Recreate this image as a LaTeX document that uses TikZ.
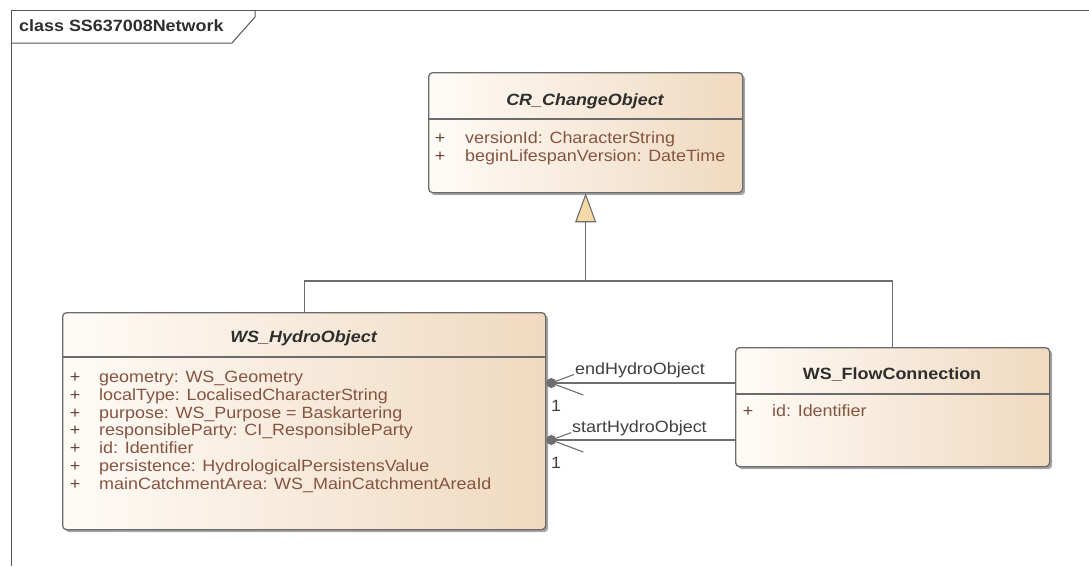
\documentclass[tikz,border=0pt]{standalone}
\usepackage{fontspec}
\setmainfont{Liberation Sans}[FakeStretch=1.1]
\usetikzlibrary{arrows.meta,shadows,calc}

\definecolor{boxline}{HTML}{6B6B6B}
\definecolor{boxlight}{HTML}{FEFBF7}
\definecolor{boxdark}{HTML}{F0D9BF}
\definecolor{attrtext}{HTML}{855441}
\definecolor{titletext}{HTML}{2E2E2E}
\definecolor{labeltext}{HTML}{404040}
\definecolor{connline}{HTML}{6E6E6E}
\definecolor{tipfill}{HTML}{F8D9A8}
\definecolor{frameline}{HTML}{555555}

\newcommand\umlfont{\fontsize{16.3pt}{19pt}\selectfont}

\begin{document}
\begin{tikzpicture}[x=1pt,y=-1pt,
  classbox/.style={draw=boxline, line width=1.3pt, rounded corners=4pt,
    left color=boxlight, right color=boxdark, anchor=north west, inner sep=0pt,
    drop shadow={shadow xshift=2.5pt, shadow yshift=-2.5pt, opacity=0.35, fill=black}},
  sepline/.style={draw=boxline, line width=1.1pt},
  classtitle/.style={font=\umlfont\bfseries, text=titletext, anchor=base, inner sep=0pt},
  abstracttitle/.style={font=\umlfont\bfseries\itshape, text=titletext, anchor=base, inner sep=0pt},
  attr/.style={font=\umlfont, text=attrtext, anchor=base west, inner sep=0pt},
  vis/.style={font=\umlfont, text=attrtext!80!black, anchor=base, inner sep=0pt},
  conn/.style={draw=connline, line width=1.1pt},
  rolelabel/.style={font=\umlfont, text=labeltext, anchor=base west, fill=white, inner sep=1pt},
  multlabel/.style={font=\umlfont, text=labeltext, anchor=base west, inner sep=0pt},
  frame/.style={draw=frameline, line width=1pt}]

\useasboundingbox (0,0) rectangle (1089,566);

% diagram frame with its name tab
\draw[frame] (11,566) -- (11,10) -- (1089,10);
\draw[frame] (11,43) -- (232,43) -- (255,17) -- (255,10);
\node[font=\umlfont\bfseries, text=titletext, anchor=base west, inner sep=0pt]
  (frameTitle) at (19,31) {class SS637008Network};

% CR_ChangeObject
\node[classbox, minimum width=314pt, minimum height=120pt] (cr) at (428,72) {};
\draw[sepline] (cr.west |- 0,119) -- (cr.east |- 0,119);
\node[abstracttitle] (crTitle) at (585,105) {CR\_ChangeObject};
\node[vis] (crV1) at (440,143) {+};
\node[attr] (crA1) at (465,143) {versionId: CharacterString};
\node[vis] (crV2) at (440,161) {+};
\node[attr] (crA2) at (465,161) {beginLifespanVersion: DateTime};

% WS_HydroObject
\node[classbox, minimum width=483pt, minimum height=217pt] (hydro) at (62,312) {};
\draw[sepline] (hydro.west |- 0,357) -- (hydro.east |- 0,357);
\node[abstracttitle] (hydroTitle) at (303.5,342) {WS\_HydroObject};
\foreach \txt [count=\i from 0] in {
    {geometry: WS\_Geometry},
    {localType: LocalisedCharacterString},
    {purpose: WS\_Purpose = Baskartering},
    {responsibleParty: CI\_ResponsibleParty},
    {id: Identifier},
    {persistence: HydrologicalPersistensValue},
    {mainCatchmentArea: WS\_MainCatchmentAreaId}} {
  \node[vis] (hydroV\i) at (75,382.5+17.8*\i) {+};
  \node[attr] (hydroA\i) at (99,382.5+17.8*\i) {\txt};
}

% WS_FlowConnection
\node[classbox, minimum width=314pt, minimum height=119pt] (flow) at (735,347) {};
\draw[sepline] (flow.west |- 0,394) -- (flow.east |- 0,394);
\node[classtitle] (flowTitle) at (892,379) {WS\_FlowConnection};
\node[vis] (flowV1) at (748,416) {+};
\node[attr] (flowA1) at (772,416) {id: Identifier};

% generalisation tree
\coordinate (joint) at (cr.south |- 0,281);
\draw[conn] (hydro.north) |- (joint) -| (flow.north);
\draw[conn, -{Triangle[length=29pt, width=21pt, fill=tipfill]}] (joint) -- (cr.south);

% associations towards WS_HydroObject
\coordinate (endA) at ($(hydro.east |- 0,383)+(5,0)$);
\coordinate (startA) at ($(hydro.east |- 0,440)+(5,0)$);
\draw[conn] (flow.west |- endA) -- (endA);
\draw[conn] ($(endA)+(32,-12)$) -- (endA) -- ($(endA)+(32,12)$);
\fill[connline] (endA) circle (5);
\draw[conn] (flow.west |- startA) -- (startA);
\draw[conn] ($(startA)+(32,-12)$) -- (startA) -- ($(startA)+(32,12)$);
\fill[connline] (startA) circle (5);

\node[rolelabel] (endRole) at (574,374) {endHydroObject};
\node[multlabel] (endMult) at (551,411) {1};
\node[rolelabel] (startRole) at (571,432) {startHydroObject};
\node[multlabel] (startMult) at (551,468) {1};

\end{tikzpicture}
\end{document}
